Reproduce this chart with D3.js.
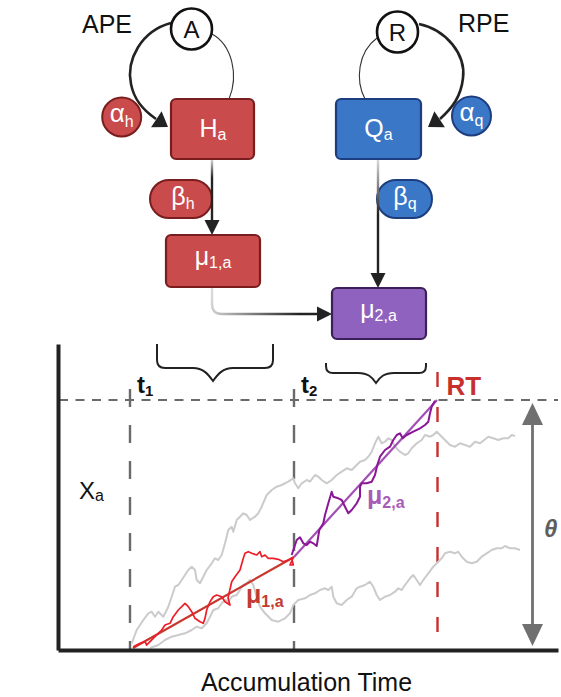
<!DOCTYPE html>
<html>
<head>
<meta charset="utf-8">
<script src="https://cdn.jsdelivr.net/npm/d3@7"></script>
<style>
  html, body { margin: 0; padding: 0; background: #fff; }
  svg { display: block; }
  text { font-family: "Liberation Sans", Arial, Helvetica, sans-serif; }
</style>
</head>
<body>
<svg id="fig" width="561" height="697"></svg>
<script>
// données (temps, évidence) ; seuil theta = 250
const THETA = 250;
const AXIS_TOP = 306;
const T_END = 500;

const timeMarks = [
  { name: "t", sub: "1", t: 72, top: 261, color: "#6a6a6a" },
  { name: "t", sub: "2", t: 236, top: 261, color: "#6a6a6a" },
  { name: "RT", sub: "", t: 379.5, top: 278, color: "#c8302e" }
];

const driftStage1 = [[75, 2], [236, 93]];
const driftStage2 = [[236, 93], [379, 250]];

const redWalk = [
  [75.3, 3.3], [82, 6.7], [87, 8.3], [88.7, 5], [92, 8.3], [97, 13.3], [103.7, 20], [107, 25],
  [112, 26.7], [115.3, 33.3], [120.3, 40], [123.7, 43.3], [127, 46.7], [130.3, 43.3], [133.7, 38.3],
  [137, 31.7], [142, 28.3], [145.3, 26.7], [147, 31.7], [148.7, 40], [152, 48.3], [155.3, 53.3],
  [158.7, 55], [163.7, 53.3], [167, 48.3], [172, 45], [170, 52], [173.7, 68.3], [177, 73.3],
  [182, 80], [185.3, 91.7], [187, 96.7], [190.3, 98.3], [193.7, 96.7], [198.7, 95], [202, 98.3],
  [203.7, 93.3], [207, 95], [210.3, 91.7], [215.3, 91.7], [220.3, 90.7], [225.3, 88.3], [230.3, 90],
  [233.7, 91.7], [235.3, 85], [232, 85], [235.5, 93]
];

const purpleWalk = [
  [233.7, 95], [238.7, 110], [242, 112.7], [245.3, 106.7], [248.7, 105], [252, 108.3], [255.3, 106.7],
  [258.7, 104], [261.3, 120], [265.3, 126.7], [267, 135], [270.3, 146.7], [273.7, 158.3], [275.3, 153.3],
  [280.3, 151.7], [283.7, 150], [287, 143.3], [290.3, 136.7], [293.7, 140], [298.7, 146.7], [302, 153.3],
  [302, 163.3], [303.7, 166.7], [308.7, 166.7], [313.7, 168.3], [317, 175], [319.3, 185], [322, 193.3],
  [327, 200], [332, 203.3], [335.3, 210], [338.7, 215], [342, 216.7], [344.7, 211.7], [348.7, 215],
  [355.3, 218.3], [362, 221.7], [367, 225], [370.3, 228.3], [372, 236.7], [373.7, 243.3], [377, 249.3]
];

const grayWalkHigh = [
  [73.7, 6.7], [78.7, 20], [85.3, 30], [90.3, 36.7], [93.7, 38.3], [97, 33.3], [100.3, 38.3], [105.3, 33.3],
  [110.3, 43.3], [113.7, 53.3], [117, 63.3], [120.3, 65], [123.7, 70], [130.3, 80], [133.7, 83.3], [137, 80],
  [138.7, 70], [142, 66.7], [145.3, 73.3], [148.7, 80], [153.7, 86.7], [157, 91.7], [160.3, 90], [163.7, 95],
  [167, 106.7], [170.3, 120], [173.7, 123.3], [175.3, 118.3], [178.7, 130], [182, 133.3], [185.3, 136.7],
  [188.7, 135], [192, 130], [197, 133.3], [200.3, 136.7], [203.7, 143.3], [208.7, 155], [213.7, 160],
  [218.7, 163.3], [223.7, 165], [230.3, 168.3], [235.3, 171.7], [237, 166.7], [240.3, 161.7], [243.7, 166.7],
  [248.7, 170], [252, 168.3], [257, 175], [260.3, 173.3], [263.7, 170], [268.7, 166.7], [273.7, 170],
  [278.7, 175], [283.7, 178.3], [288.7, 181.7], [293.7, 180], [298.7, 185], [302, 188.3], [307, 190],
  [310.3, 193.3], [313.7, 198.3], [317, 206.7], [320.3, 213.3], [323.7, 206.7], [327, 208.3], [330.3, 211.7],
  [333.7, 210], [337, 203.3], [342, 198.3], [347, 195], [350.3, 196.7], [353.7, 201.7], [358.7, 206.7],
  [363.7, 210], [367, 215], [372, 213.3], [375.3, 215], [378.7, 218.3], [382, 215], [387, 210], [392, 205],
  [397, 203.3], [402, 206.7], [407, 205], [412, 203.3], [417, 208.3], [422, 206.7], [430.3, 213.3],
  [435.3, 211.7], [440.3, 210], [445.3, 211.7], [450.3, 211.7], [453.7, 215], [457, 214]
];

const grayWalkLow = [
  [92, 2], [100.3, 5], [107, 10], [113.7, 13.3], [120.3, 15], [127, 16.7], [133.7, 20], [138.7, 23.3],
  [143.7, 21.7], [148.7, 26.7], [152, 33.3], [155.3, 40], [160.3, 41.7], [163.7, 46.7], [167, 50],
  [170.3, 48.3], [173.7, 53.3], [178.7, 55], [182, 60], [185.3, 65], [188.7, 66.7], [192, 70], [195.3, 65],
  [198.7, 53.3], [202, 43.3], [207, 36.7], [213.7, 30], [220.3, 28.3], [227, 31.7], [232, 36.7], [235.3, 45],
  [240.3, 50], [247, 51.7], [252, 55], [257, 56.7], [262, 60], [267, 61.7], [270.3, 60], [273.7, 63.3],
  [275.3, 53.3], [278.7, 46.7], [283.7, 45], [288.7, 50], [293.7, 53.3], [298.7, 61.7], [302, 63.3],
  [307, 65], [312, 68.3], [315.3, 63.3], [318.7, 55], [322, 50], [327, 53.3], [332, 55], [337, 58.3],
  [340.3, 61.7], [343.7, 60], [347, 65], [352, 71.7], [355.3, 75], [358.7, 70], [362, 65], [365.3, 70],
  [370.3, 76.7], [375.3, 83.3], [380.3, 88.3], [383.7, 91.7], [387, 96.7], [392, 98.3], [397, 96.7],
  [400.3, 98.3], [403.7, 93.3], [408.7, 88.3], [413.7, 86.7], [418.7, 88.3], [423.7, 93.3], [428.7, 96.7],
  [433.7, 100], [438.7, 101.7], [443.7, 101.7], [447, 104], [452, 101.7], [457, 101.7], [462, 100]
];

// schéma du modèle
const peLabels = ["APE", "RPE"];
const signalLabels = ["A", "R"];
const boxLabels = [["H", "a"], ["Q", "a"], ["μ", "1,a"], ["μ", "2,a"]];
const paramLabels = [["α", "h"], ["α", "q"], ["β", "h"], ["β", "q"]];

const COLORS = {
  red: "#c94b4b", redDark: "#7a1d1f",
  blue: "#3a77c7", blueDark: "#1c3e7e",
  purple: "#8f62c0", purpleDark: "#3b1f57",
  ink: "#222"
};

const svg = d3.select("#fig");
const defs = svg.append("defs");

function gradient(id, x1, y1, x2, y2, stops) {
  const g = defs.append("linearGradient").attr("id", id).attr("gradientUnits", "userSpaceOnUse")
    .attr("x1", x1).attr("y1", y1).attr("x2", x2).attr("y2", y2);
  stops.forEach(s => g.append("stop").attr("offset", s[0]).attr("stop-color", s[1]));
}

function arrowHead(g, tipX, tipY, dx, dy, len, wid, fill) {
  const n = Math.hypot(dx, dy); dx /= n; dy /= n;
  const bx = tipX - dx * len, by = tipY - dy * len;
  const px = -dy * wid / 2, py = dx * wid / 2;
  g.append("path").attr("d", `M${tipX},${tipY}L${bx + px},${by + py}L${bx - px},${by - py}Z`).attr("fill", fill);
}

function label(g, x, y, main, sub, size, subSize, opts = {}) {
  const t = g.append("text").attr("x", x).attr("y", y).attr("text-anchor", opts.anchor || "middle")
    .attr("fill", opts.fill || "#fff").attr("font-size", size)
    .attr("font-weight", opts.weight || "normal").attr("font-style", opts.style || "normal");
  t.append("tspan").text(main);
  if (sub) t.append("tspan").attr("font-size", subSize).attr("dy", opts.subDy || 4).text(sub);
  return t;
}

// ---------- partie haute : schéma ----------
const scheme = svg.append("g");

gradient("gH", 0, 160, 0, 178, [[0, "#d0d0d0"], [1, COLORS.ink]]);
gradient("gQ", 0, 160, 0, 215, [[0, "#d8d8d8"], [1, COLORS.ink]]);
gradient("gM", 212, 288, 300, 314, [[0, "#dcdcdc"], [0.45, "#888"], [1, COLORS.ink]]);

// boucles
scheme.append("path").attr("d", "M171,23 C141,31 126,60 131,84 C134,100 143,110 156,119")
  .attr("fill", "none").attr("stroke", COLORS.ink).attr("stroke-width", 2.6);
arrowHead(scheme, 168, 127, 12, 8, 14, 19, COLORS.ink);
scheme.append("path").attr("d", "M212,34 C232,45 239,75 229,99")
  .attr("fill", "none").attr("stroke", "#333").attr("stroke-width", 1.1);

scheme.append("path").attr("d", "M419,24 C447,30 466,55 463,78 C461,97 452,108 440,119")
  .attr("fill", "none").attr("stroke", COLORS.ink).attr("stroke-width", 2.6);
arrowHead(scheme, 428, 127, -12, 8, 14, 19, COLORS.ink);
scheme.append("path").attr("d", "M377,38 C358,52 355,80 365,99")
  .attr("fill", "none").attr("stroke", "#333").attr("stroke-width", 1.1);

// textes APE / RPE
scheme.append("text").attr("x", 82).attr("y", 33).attr("font-size", 25).attr("fill", "#111").text(peLabels[0]);
scheme.append("text").attr("x", 458).attr("y", 32).attr("font-size", 25).attr("fill", "#111").text(peLabels[1]);

// cercles A / R
[[191.5, 29], [397.5, 32]].forEach((c, i) => {
  scheme.append("circle").attr("cx", c[0]).attr("cy", c[1]).attr("r", 20.5)
    .attr("fill", "#fff").attr("stroke", "#111").attr("stroke-width", 2.6);
  scheme.append("text").attr("x", c[0]).attr("y", c[1] + 9).attr("text-anchor", "middle")
    .attr("font-size", 24).attr("fill", "#111").text(signalLabels[i]);
});

// pastilles beta (derrière les flèches)
scheme.append("rect").attr("x", 150).attr("y", 180).attr("width", 62).attr("height", 38).attr("rx", 19)
  .attr("fill", COLORS.red).attr("stroke", COLORS.redDark).attr("stroke-width", 2);
scheme.append("rect").attr("x", 377).attr("y", 180).attr("width", 55).attr("height", 38).attr("rx", 19)
  .attr("fill", COLORS.blue).attr("stroke", COLORS.blueDark).attr("stroke-width", 2);
label(scheme, 183, 205, paramLabels[2][0], paramLabels[2][1], 25, 16);
label(scheme, 405, 205, paramLabels[3][0], paramLabels[3][1], 25, 16);

// flèches verticales
scheme.append("path").attr("d", "M212,159 L212,221").attr("stroke", "url(#gH)").attr("stroke-width", 2.4);
arrowHead(scheme, 212, 235, 0, 1, 15, 15, COLORS.ink);
scheme.append("path").attr("d", "M378,159 L378,274").attr("stroke", "url(#gQ)").attr("stroke-width", 2.4);
arrowHead(scheme, 378, 288, 0, 1, 15, 15, COLORS.ink);
scheme.append("path").attr("d", "M212,287 L212,304 Q212,314 222,314 L318,314")
  .attr("fill", "none").attr("stroke", "url(#gM)").attr("stroke-width", 2.4);
arrowHead(scheme, 332, 314, 1, 0, 15, 15, COLORS.ink);

// boîtes
const boxes = [
  { x: 171, y: 99, w: 83, h: 60, fill: COLORS.red, stroke: COLORS.redDark, tx: 213, ty: 137 },
  { x: 336, y: 99, w: 85, h: 60, fill: COLORS.blue, stroke: COLORS.blueDark, tx: 378.5, ty: 137 },
  { x: 166, y: 235, w: 94, h: 52, fill: COLORS.red, stroke: COLORS.redDark, tx: 213, ty: 265 },
  { x: 332, y: 288, w: 94, h: 51, fill: COLORS.purple, stroke: COLORS.purpleDark, tx: 378.5, ty: 318 }
];
boxes.forEach((b, i) => {
  scheme.append("rect").attr("x", b.x).attr("y", b.y).attr("width", b.w).attr("height", b.h).attr("rx", 5)
    .attr("fill", b.fill).attr("stroke", b.stroke).attr("stroke-width", 2.2);
  label(scheme, b.tx, b.ty, boxLabels[i][0], boxLabels[i][1], 25, 16, { subDy: 3 });
});

// pastilles alpha
[[121.7, 117, COLORS.red, COLORS.redDark], [471.5, 116, COLORS.blue, COLORS.blueDark]].forEach((c, i) => {
  scheme.append("circle").attr("cx", c[0]).attr("cy", c[1]).attr("r", 19.5)
    .attr("fill", c[2]).attr("stroke", c[3]).attr("stroke-width", 2);
  label(scheme, c[0], c[1] + 5, paramLabels[i][0], paramLabels[i][1], 26, 16, { subDy: 5 });
});

// accolades
scheme.append("path")
  .attr("d", "M157,344 L157,360 Q157,368 165,368 L193,368 C203,368 208,374 213,381 C218,374 223,368 233,368 L265,368 Q273,368 273,360 L273,344")
  .attr("fill", "none").attr("stroke", COLORS.ink).attr("stroke-width", 2);
scheme.append("path")
  .attr("d", "M326,363 L326,366 Q326,373 333,373 L358,373 C368,373 372,377 376,383 C380,377 384,373 394,373 L419,373 Q426,373 426,366 L426,363")
  .attr("fill", "none").attr("stroke", COLORS.ink).attr("stroke-width", 2);

// ---------- partie basse : accumulation ----------
const x = d3.scaleLinear().domain([0, T_END]).range([58, 558]);
const y = d3.scaleLinear().domain([0, THETA]).range([650, 400]);
const plot = svg.append("g");

const line = d3.line().x(d => x(d[0])).y(d => y(d[1]));

// seuil
plot.append("line").attr("x1", x(1)).attr("x2", x(T_END)).attr("y1", y(THETA)).attr("y2", y(THETA))
  .attr("stroke", "#6a6a6a").attr("stroke-width", 2).attr("stroke-dasharray", "9,7.5");

// repères temporels
plot.selectAll(".mark").data(timeMarks).join("line").attr("class", "mark")
  .attr("x1", d => x(d.t)).attr("x2", d => x(d.t))
  .attr("y1", d => y(d.top)).attr("y2", y(0))
  .attr("stroke", d => d.color).attr("stroke-width", 2.4)
  .attr("stroke-dasharray", d => d.sub ? "18,18" : "15,20");

// marches aléatoires
[grayWalkHigh, grayWalkLow].forEach(w => {
  plot.append("path").datum(w).attr("d", line).attr("fill", "none")
    .attr("stroke", "#cbcbcb").attr("stroke-width", 2).attr("stroke-linejoin", "round");
});
plot.append("path").datum(driftStage1).attr("d", line).attr("stroke", "#c8372e").attr("stroke-width", 2.2);
plot.append("path").datum(driftStage2).attr("d", line).attr("stroke", "#a24fb5").attr("stroke-width", 2.2);
plot.append("path").datum(redWalk).attr("d", line).attr("fill", "none")
  .attr("stroke", "#ec1e2a").attr("stroke-width", 1.7).attr("stroke-linejoin", "round");
plot.append("path").datum(purpleWalk).attr("d", line).attr("fill", "none")
  .attr("stroke", "#8b1797").attr("stroke-width", 2).attr("stroke-linejoin", "round");

// axes
const yAxis = d3.scaleLinear().domain([0, AXIS_TOP]).range([y(0), y(0) - (y(0) - y(THETA)) * AXIS_TOP / THETA]);
const axL = plot.append("g").attr("transform", `translate(${x(0)},0)`)
  .call(d3.axisLeft(yAxis).ticks(0).tickSizeOuter(0));
const axB = plot.append("g").attr("transform", `translate(0,${y(0)})`)
  .call(d3.axisBottom(x).ticks(0).tickSizeOuter(0));
[axL, axB].forEach(a => a.select(".domain").attr("stroke", COLORS.ink).attr("stroke-width", 4));

// theta
const thX = 532.5;
plot.append("line").attr("x1", thX).attr("x2", thX).attr("y1", y(THETA) + 22).attr("y2", y(0) - 24)
  .attr("stroke", "#707070").attr("stroke-width", 2.8);
arrowHead(plot, thX, y(THETA) + 3, 0, -1, 22, 21, "#707070");
arrowHead(plot, thX, y(0) - 4, 0, 1, 22, 21, "#707070");
plot.append("text").attr("x", 544).attr("y", 537).attr("font-size", 24).attr("font-weight", "bold")
  .attr("font-style", "italic").attr("fill", "#5e5e5e").text("θ");

// étiquettes
timeMarks.forEach(d => {
  if (d.sub) label(plot, x(d.t) + 7, 393, d.name, d.sub, 24, 15, { anchor: "start", fill: "#111", weight: "bold", subDy: 3 });
  else plot.append("text").attr("x", x(d.t) + 9).attr("y", 395).attr("font-size", 26).attr("font-weight", "bold")
    .attr("fill", d.color).text(d.name);
});
label(plot, 246, 603, "μ", "1,a", 25, 16, { anchor: "start", fill: "#c23a32", weight: "bold", subDy: 0 });
label(plot, 367, 504, "μ", "2,a", 25, 16, { anchor: "start", fill: "#a75db8", weight: "bold", subDy: 0 });
label(plot, 79, 499, "X", "a", 24, 16, { anchor: "start", fill: "#111", subDy: 2 });

svg.append("text").attr("x", 306.5).attr("y", 691).attr("text-anchor", "middle")
  .attr("font-size", 25).attr("fill", "#111").text("Accumulation Time");
</script>
</body>
</html>
